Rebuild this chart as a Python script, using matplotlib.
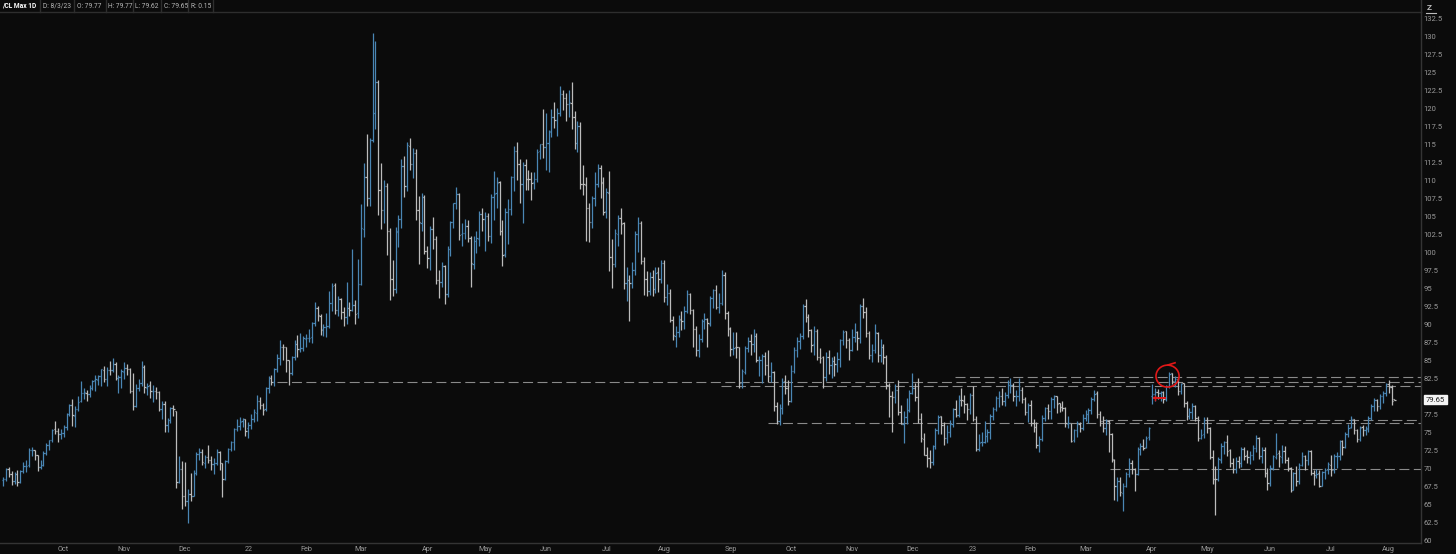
import numpy as np
import matplotlib
matplotlib.use("Agg")
import matplotlib.pyplot as plt
from matplotlib.collections import LineCollection
from matplotlib.patches import Ellipse
from matplotlib.lines import Line2D

plt.rcParams['font.family'] = ['Roboto', 'DejaVu Sans']

# ---------------- data: /CL daily OHLC, Sep 2021 .. 3 Aug 2023 ----------------
month_sessions = [21, 21, 21, 22, 20, 19, 23, 20, 21, 21, 20, 23,
                  21, 21, 21, 21, 20, 19, 23, 19, 22, 21, 20, 3]
month_labels = ['Sep', 'Oct', 'Nov', 'Dec', '22', 'Feb', 'Mar', 'Apr', 'May', 'Jun', 'Jul', 'Aug',
                'Sep', 'Oct', 'Nov', 'Dec', '23', 'Feb', 'Mar', 'Apr', 'May', 'Jun', 'Jul', 'Aug']

opens = [
    68.50,68.55,69.95,69.30,68.35,69.30,68.20,69.75,70.45,70.50,72.60,72.60,71.90,70.30,70.60,72.25,73.30,74.00,75.50,75.30,74.80,
    75.00,75.90,77.60,78.90,77.40,78.30,79.40,80.50,80.60,80.40,81.30,82.30,82.40,82.95,83.80,82.50,83.80,83.80,84.60,82.60,82.80,
    83.50,84.00,83.90,80.90,78.80,81.30,81.90,84.10,81.30,81.60,80.80,80.90,80.70,78.40,79.00,76.10,76.80,78.50,78.00,68.20,70.00,
    66.20,65.60,66.50,66.30,69.50,72.10,72.40,70.90,71.70,71.30,70.70,70.90,72.40,70.80,68.60,71.10,72.80,73.80,75.60,76.00,76.60,76.90,
    75.70,76.10,77.00,77.80,79.50,78.90,78.30,81.20,82.60,82.10,83.90,85.40,87.00,86.90,85.10,83.30,85.60,87.30,86.60,86.80,
    88.00,88.20,88.30,90.30,92.30,91.30,89.40,89.70,89.90,93.10,95.50,92.10,93.60,91.80,91.10,92.40,92.10,92.80,91.60,
    95.70,103.40,110.60,107.70,115.70,119.40,123.70,108.70,106.00,109.30,103.00,96.40,95.00,103.00,104.70,112.10,109.30,114.90,112.30,113.90,106.00,104.20,107.80,
    100.30,99.30,103.30,102.00,96.20,96.00,98.20,94.30,100.60,104.30,107.00,108.20,102.60,102.80,103.80,102.10,98.50,101.70,102.00,105.40,
    104.70,105.20,102.40,107.80,108.30,109.80,103.10,99.80,105.70,106.10,110.50,114.20,112.40,109.60,112.20,110.30,110.30,109.80,110.30,114.10,115.10,
    114.70,115.30,116.90,118.90,118.50,119.40,122.10,121.50,120.70,120.90,118.90,115.30,117.60,109.60,109.50,106.20,104.30,107.60,109.60,111.80,109.80,
    105.80,108.40,99.50,98.50,102.70,104.80,104.10,95.80,96.30,95.80,97.60,102.60,104.20,98.90,96.40,94.70,96.70,95.00,97.30,96.40,
    98.60,93.90,94.40,90.70,88.50,89.00,90.80,90.50,91.90,94.30,92.10,89.40,86.50,88.10,90.50,90.80,90.20,93.70,94.90,92.50,93.10,97.00,91.60,
    89.50,86.60,86.90,86.90,81.90,83.50,86.80,87.80,87.30,88.50,85.10,85.10,85.70,84.40,82.90,83.50,78.70,76.70,78.50,82.20,81.20,
    79.50,83.60,86.50,87.80,88.50,92.60,91.10,89.30,87.30,89.10,85.60,85.50,82.80,85.50,84.50,85.00,84.60,85.30,87.90,89.10,87.90,
    86.50,88.40,89.00,88.20,92.60,91.80,88.90,85.80,86.50,88.90,85.90,86.90,85.60,81.60,80.10,80.00,81.00,77.90,76.30,77.20,78.20,
    80.60,81.20,80.00,76.90,74.20,72.00,71.50,71.00,73.20,75.40,77.30,76.10,74.30,75.20,76.20,78.30,77.50,79.60,79.50,79.00,78.40,
    80.30,76.90,72.80,73.70,73.80,74.60,75.10,77.40,78.40,79.90,80.20,79.50,80.30,81.60,81.60,80.10,80.20,81.00,79.70,77.90,
    78.90,76.40,75.90,73.40,74.10,77.10,78.50,78.10,79.70,80.10,79.10,78.60,78.50,76.30,76.40,74.00,75.40,76.30,75.70,
    77.10,77.70,78.20,79.70,80.50,77.60,76.70,75.70,76.70,74.80,71.30,67.60,68.40,66.70,67.60,69.30,70.90,70.00,69.30,72.80,73.20,73.00,74.40,
    80.10,80.40,80.70,80.60,80.70,79.70,81.50,83.30,82.20,82.50,80.80,81.90,79.20,77.40,77.90,78.80,77.10,74.30,74.80,
    76.80,75.70,71.70,68.60,68.60,71.30,73.20,73.70,72.60,70.90,70.00,71.10,70.90,72.80,71.90,71.70,72.00,72.90,74.30,71.80,72.70,69.50,
    68.10,70.10,71.70,72.20,71.70,72.50,71.30,70.20,67.10,69.40,68.30,70.60,71.80,71.20,72.50,69.50,69.20,69.40,67.70,69.60,69.90,
    70.60,69.80,71.80,71.80,73.90,73.00,74.80,75.80,76.90,75.40,74.20,75.80,75.40,75.60,77.10,78.70,79.60,78.80,80.10,80.60,
    81.80,81.40,79.77,
]

highs = [
    68.90,70.11,70.25,69.76,69.60,69.85,69.90,71.00,71.20,72.90,73.00,72.65,71.95,71.30,72.50,73.55,74.00,75.60,76.67,75.70,75.60,
    76.05,77.80,79.00,79.78,78.80,80.11,82.18,81.20,81.00,81.60,82.40,83.11,83.00,83.90,84.30,84.10,85.00,85.41,84.80,83.00,83.90,
    84.88,84.60,84.00,83.40,81.80,82.50,84.97,84.50,82.00,82.20,81.60,81.40,80.90,79.40,79.50,77.10,78.60,78.90,78.10,71.80,71.10,
    71.00,67.20,69.50,69.80,72.33,72.90,72.80,71.90,73.30,71.80,71.50,72.80,72.50,70.90,71.30,72.90,73.90,75.70,76.90,77.20,77.10,77.00,
    76.50,77.60,78.30,80.24,80.00,79.20,81.40,82.90,83.10,84.00,86.00,87.91,87.40,87.00,85.20,85.70,87.95,88.54,88.84,88.50,
    88.80,89.40,90.44,93.17,92.70,91.50,90.20,91.60,94.66,95.82,95.80,94.00,93.80,92.50,96.00,93.20,100.54,93.50,99.10,
    106.78,112.51,116.57,116.00,130.50,129.44,124.00,112.50,110.20,109.70,103.50,99.00,103.60,105.30,113.00,113.50,115.40,116.00,114.60,114.50,107.90,108.40,108.00,
    101.00,103.70,105.00,102.30,97.70,98.70,98.30,101.00,104.50,107.00,109.20,108.40,104.10,104.70,104.60,102.30,102.30,103.00,105.80,106.20,
    105.70,105.60,108.20,111.37,110.50,110.00,104.60,106.30,107.50,110.70,114.80,115.40,113.00,112.60,113.10,111.50,111.20,111.30,114.40,115.20,119.98,
    119.40,117.10,120.00,120.99,120.10,123.18,122.70,122.20,122.70,123.68,119.70,118.40,118.20,112.20,110.60,107.00,107.90,111.20,112.40,112.20,110.60,
    109.00,111.45,101.90,103.30,105.30,106.30,104.30,98.00,97.00,98.70,103.00,105.00,104.50,99.50,97.50,97.40,97.70,98.00,98.00,99.00,
    99.00,95.70,95.00,91.20,89.80,91.40,92.00,92.60,94.80,94.50,92.20,89.80,88.70,90.80,91.60,91.00,94.00,95.00,95.60,94.50,97.65,97.30,92.00,
    89.70,89.00,89.00,87.00,83.90,87.10,88.40,88.70,89.50,88.90,85.70,86.00,86.20,86.50,84.90,83.60,79.30,79.00,82.70,83.00,82.40,
    84.40,87.00,88.40,88.90,92.95,93.64,91.50,89.50,89.80,89.50,86.80,85.70,86.30,86.50,85.60,85.70,86.20,88.10,89.30,89.20,88.20,
    89.50,90.30,89.10,92.85,93.74,92.50,89.20,87.30,90.10,89.00,88.00,87.40,85.80,82.00,80.80,81.80,82.40,78.90,78.00,79.90,81.00,
    83.34,81.90,82.70,77.80,75.00,73.00,72.60,73.40,75.70,77.50,77.40,76.50,76.10,76.80,78.50,79.60,80.30,81.20,80.30,79.20,80.50,
    81.50,77.40,74.90,75.20,76.70,75.60,77.60,78.60,80.10,80.80,81.20,80.70,82.40,82.60,82.00,81.00,82.66,81.40,80.00,79.20,
    79.60,77.00,76.50,74.60,77.50,78.60,79.00,80.00,80.30,80.20,79.20,79.40,78.60,77.30,76.40,75.60,76.70,76.50,77.60,
    78.20,78.50,80.00,80.94,80.80,78.00,77.40,77.00,76.80,75.00,71.40,68.90,68.90,68.10,69.60,71.50,71.30,70.20,73.10,73.60,74.20,74.60,75.90,
    81.81,81.20,81.10,80.90,80.80,81.70,83.53,83.40,82.90,82.70,81.90,81.90,79.50,78.50,79.10,78.90,77.40,75.60,77.20,
    77.20,75.80,72.70,70.40,71.60,73.60,73.90,74.70,72.80,71.50,71.60,71.80,73.00,73.00,72.60,72.50,73.40,74.73,74.50,73.00,73.10,70.20,
    70.60,72.00,75.06,72.70,73.30,73.20,71.70,70.30,69.60,70.40,70.90,72.30,72.00,72.70,72.70,69.90,70.00,69.80,69.70,70.20,71.00,
    72.00,72.10,72.30,74.00,74.00,75.10,76.20,77.33,76.90,75.50,76.00,76.10,76.00,77.30,79.00,79.80,79.70,80.40,80.80,81.90,
    82.40,81.70,79.77,
]

lows = [
    67.58,68.40,68.84,67.78,67.95,67.60,68.00,69.50,69.60,70.30,71.80,71.20,69.70,70.00,70.40,72.00,72.60,73.80,74.80,73.70,74.10,
    74.50,75.40,77.40,76.00,75.80,78.10,79.30,79.70,79.50,80.00,81.00,80.90,81.60,81.50,82.10,81.50,83.00,83.50,82.30,80.60,81.20,
    82.50,83.00,80.50,78.25,78.60,80.90,81.50,80.50,80.30,79.80,79.30,79.70,78.10,76.90,75.20,75.20,76.40,77.40,67.40,68.00,64.43,
    64.80,62.43,65.60,66.20,69.20,71.30,70.50,70.10,70.90,69.90,69.30,70.60,69.90,66.12,68.50,70.90,72.50,72.70,75.30,75.40,75.90,74.60,
    74.30,75.50,76.50,76.70,78.30,77.50,78.00,80.60,81.60,81.50,83.50,84.50,85.20,83.50,81.69,83.00,85.20,85.50,86.30,86.40,
    87.00,87.70,87.50,89.80,90.60,88.60,88.50,88.30,89.60,92.00,91.50,91.30,90.90,89.90,90.20,91.30,92.00,90.10,91.00,
    95.50,102.20,106.57,106.50,115.40,117.20,105.33,103.40,104.10,99.76,93.53,94.00,94.50,100.80,103.50,107.80,108.60,111.50,110.40,104.60,98.44,103.00,99.90,
    97.90,97.70,100.50,95.70,93.80,95.30,92.93,93.90,99.60,103.50,106.10,101.80,101.00,102.00,101.50,95.28,97.80,100.00,101.00,103.00,
    100.30,101.60,101.40,104.60,106.20,102.50,98.20,99.40,101.30,105.30,108.60,110.10,106.90,104.20,108.70,108.80,107.40,108.90,109.80,113.00,113.20,
    111.50,111.30,116.10,117.40,116.30,119.00,119.80,118.30,118.90,117.20,114.40,114.00,108.90,108.00,101.60,101.50,103.50,106.50,109.20,107.70,105.30,
    104.90,97.43,95.10,98.00,101.00,102.60,95.00,93.40,90.56,95.20,97.00,100.20,98.50,94.20,94.00,94.20,94.00,94.50,94.60,95.80,
    93.20,92.80,90.40,87.85,87.00,88.40,89.30,89.40,91.60,91.50,87.00,85.73,85.50,87.60,89.40,86.90,89.80,92.30,92.20,91.60,92.80,90.90,88.50,
    85.70,85.80,85.40,81.20,81.30,83.20,86.20,85.90,86.30,84.80,82.90,82.00,83.00,82.10,82.10,78.10,76.25,76.10,77.60,80.40,78.90,
    79.30,83.30,85.50,86.70,88.10,90.40,88.40,86.30,85.80,85.20,84.70,81.31,82.20,83.20,82.60,82.90,83.50,84.20,87.20,86.80,85.10,
    86.40,87.70,86.50,87.50,91.00,88.40,85.30,84.80,86.10,84.90,84.90,84.60,81.10,77.24,75.08,79.20,77.50,76.20,73.60,76.20,77.90,
    80.40,79.40,76.40,73.80,71.90,70.30,70.10,70.50,72.80,74.90,74.80,73.40,73.60,74.40,75.80,77.20,77.20,78.70,77.80,76.80,77.70,
    76.60,72.50,72.50,73.20,73.60,73.70,74.10,76.80,78.00,78.60,78.90,78.70,79.90,80.60,79.50,78.80,79.50,79.20,77.50,76.50,
    76.00,75.10,72.90,72.30,73.90,76.60,77.00,76.90,78.50,77.80,77.90,78.00,75.80,75.70,73.80,73.80,74.40,75.10,75.40,
    76.60,76.40,77.60,79.40,77.10,76.00,75.10,74.70,72.30,71.00,65.65,65.50,66.20,64.12,67.50,68.90,69.30,66.90,69.10,72.00,72.60,72.90,74.00,
    79.00,79.50,79.70,79.50,79.20,79.40,81.20,81.80,81.40,80.30,80.40,78.60,76.80,77.00,77.00,76.60,73.90,74.10,74.30,
    75.00,71.40,67.90,63.64,68.40,70.80,72.10,71.80,70.30,69.40,69.50,70.10,70.30,71.20,70.90,70.70,71.20,72.30,71.40,70.80,68.90,67.10,
    67.70,69.90,71.40,70.30,70.90,70.80,69.70,66.80,67.10,67.60,67.90,70.40,69.90,70.50,69.20,67.80,68.80,67.50,67.60,68.60,69.30,
    69.00,69.50,70.10,71.30,71.90,72.90,74.50,75.70,74.90,73.80,73.90,74.60,74.70,75.10,76.80,78.10,78.00,78.30,79.20,80.20,
    80.60,78.90,79.62,
]

closes = [
    68.59,69.99,69.29,68.35,69.30,68.14,69.72,70.45,70.46,72.61,72.61,71.97,70.29,70.56,72.23,73.30,73.98,75.45,75.29,74.83,75.03,
    75.88,77.62,78.93,77.43,78.30,79.35,80.52,80.64,80.44,81.31,82.28,82.44,82.96,83.87,82.50,83.76,83.76,84.65,82.66,82.81,83.57,
    84.05,83.91,80.86,78.81,81.27,81.93,84.15,81.34,81.59,80.79,80.88,80.76,78.36,79.01,76.10,76.75,78.50,78.39,68.15,69.95,66.18,
    65.57,66.50,66.26,69.49,72.05,72.36,70.94,71.67,71.29,70.73,70.87,72.38,70.86,68.61,71.12,72.76,73.79,75.57,75.98,76.56,76.99,75.21,
    76.08,76.99,77.85,79.46,78.90,78.23,81.22,82.64,82.12,83.82,85.43,86.96,86.90,85.14,83.31,85.60,87.35,86.61,86.82,88.15,
    88.20,88.26,90.27,92.31,91.32,89.36,89.66,89.88,93.10,95.46,92.07,93.66,91.76,91.07,92.35,92.10,92.81,91.59,95.72,
    103.41,110.60,107.67,115.68,119.40,123.70,108.70,106.02,109.33,103.01,96.44,95.04,102.98,104.70,112.12,109.27,114.93,112.34,113.90,105.96,104.24,107.82,100.28,
    99.27,103.28,101.96,96.23,96.03,98.26,94.29,100.60,104.25,106.95,108.21,102.56,102.75,103.79,102.07,98.54,101.70,102.02,105.36,104.69,
    105.17,102.41,107.81,108.26,109.77,103.09,99.76,105.71,106.13,110.49,114.20,112.40,109.59,112.21,110.28,110.29,109.77,110.33,114.09,115.07,114.67,
    115.26,116.87,118.87,118.50,119.41,122.11,121.51,120.67,120.93,118.93,115.31,117.59,109.56,109.52,106.19,104.27,107.62,109.57,111.76,109.78,105.76,
    108.43,99.50,98.53,102.73,104.79,104.09,95.84,96.30,95.78,97.59,102.60,104.22,98.88,96.35,94.70,96.70,94.98,97.26,96.42,98.62,
    93.89,94.42,90.66,88.54,89.01,90.76,90.50,91.93,94.34,92.09,89.41,86.53,88.11,90.50,90.77,90.23,93.74,94.89,92.52,93.06,97.01,91.64,89.55,
    86.61,86.87,86.88,81.94,83.54,86.79,87.78,87.31,88.48,85.10,85.11,85.73,84.45,82.94,83.49,78.74,76.71,78.50,82.15,81.23,79.49,
    83.63,86.52,87.76,88.45,92.64,91.13,89.35,87.27,89.11,85.61,85.46,82.82,85.55,84.51,85.05,84.58,85.32,87.91,89.08,87.90,86.53,
    88.37,89.00,88.17,92.61,91.79,88.91,85.83,86.47,88.96,85.87,86.92,85.59,81.64,80.08,80.04,80.95,77.94,76.28,77.24,78.20,80.55,
    81.22,79.98,76.93,74.25,72.01,71.46,71.02,73.17,75.39,77.28,76.11,74.29,75.19,76.23,78.29,77.49,79.56,79.53,78.96,78.40,80.26,
    76.93,72.84,73.67,73.77,74.63,75.12,77.41,78.39,79.86,80.18,79.48,80.33,81.64,81.62,80.13,80.15,81.01,79.68,77.90,78.87,
    76.41,75.88,73.39,74.11,77.14,78.47,78.06,79.72,80.14,79.06,78.59,78.49,76.34,76.36,73.95,75.39,76.32,75.68,77.05,
    77.69,78.16,79.68,80.46,77.58,76.66,75.72,76.68,74.80,71.33,67.61,68.35,66.74,67.64,69.33,70.90,69.96,69.26,72.81,73.20,72.97,74.37,75.67,
    80.42,80.71,80.61,80.70,79.74,81.53,83.26,82.16,82.52,80.83,81.86,79.16,77.37,77.87,78.76,77.07,74.30,74.76,76.78,
    75.66,71.66,68.60,68.56,71.34,73.16,73.71,72.56,70.87,70.04,71.11,70.86,72.83,71.86,71.69,71.99,72.91,74.34,71.83,72.67,69.46,68.09,
    70.10,71.74,72.15,71.74,72.53,71.29,70.17,67.12,69.42,68.27,70.62,71.78,71.19,72.53,69.51,69.16,69.37,67.70,69.56,69.86,70.64,
    69.79,71.79,71.80,73.86,72.99,74.83,75.75,76.89,75.42,74.15,75.75,75.35,75.63,77.07,78.74,79.63,78.78,80.09,80.58,81.80,
    81.37,79.49,79.65,
]

# user-drawn horizontal levels: (price, first session index)
level_prices = [82.10, 81.50, 82.80, 76.40, 76.75, 70.00]
level_starts = [95.0, 248.7, 329.7, 265.0, 381.0, 383.5]

header_texts = ['/CL Max 1D', 'D: 8/3/23', 'O: 79.77', 'H: 79.77', 'L: 79.62', 'C: 79.65', 'R: 0.15']
last_price = 79.65

# ---------------- figure ----------------
W, H = 1456, 554
BG = '#0b0b0b'
fig = plt.figure(figsize=(W / 100, H / 100), dpi=100, facecolor=BG)

ax_left, ax_right, ax_top, ax_bottom = 0, 1421, 12, 543
ax = fig.add_axes([ax_left / W, (H - ax_bottom) / H,
                   (ax_right - ax_left) / W, (ax_bottom - ax_top) / H])
ax.set_facecolor(BG)

n = len(closes)
x = np.arange(n)
o = np.array(opens); h = np.array(highs); l = np.array(lows); c = np.array(closes)

UP = '#4a86b4'
DN = '#bcbcbc'
cols = [UP if c[i] >= o[i] else DN for i in range(n)]
tick = 0.45
segs, segcols = [], []
for i in range(n):
    segs.append([(x[i], l[i]), (x[i], h[i])])
    segs.append([(x[i] - tick, o[i]), (x[i], o[i])])
    segs.append([(x[i], c[i]), (x[i] + tick, c[i])])
    segcols += [cols[i]] * 3
ax.add_collection(LineCollection(segs, colors=segcols, linewidths=0.9, capstyle='butt'))

xmin, xmax = -1.04, 491.2
ax.set_xlim(xmin, xmax)
ax.set_ylim(59.72, 133.47)

# level lines
for p, s in zip(level_prices, level_starts):
    ax.plot([s, xmax], [p, p], color='#8a8a8a', lw=0.8,
            linestyle=(0, (9, 4)), zorder=1)

# red annotations (circle around April high, mark under the April lows)
ax.add_patch(Ellipse((403.4, 82.9), 8.0, 3.05, fill=False, ec='#e01818', lw=1.2, zorder=5))
ax.plot([403.6, 406.0], [84.45, 84.75], color='#e01818', lw=1.2, zorder=5)
ax.plot([398.7, 402.4], [79.86, 79.86], color='#e01818', lw=1.4, zorder=5)
ax.plot([398.9, 398.9], [79.55, 80.15], color='#e01818', lw=1.0, zorder=5)

# axes styling
for sp in ['top', 'left']:
    ax.spines[sp].set_visible(False)
for sp in ['right', 'bottom']:
    ax.spines[sp].set_color('#343434')
    ax.spines[sp].set_linewidth(1.0)

yt = np.arange(60, 133, 2.5)
ax.yaxis.tick_right()
ax.set_yticks(yt)
# the "80" label sits under the last-price tag in the reference
ax.set_yticklabels(['' if abs(v - 80) < 1e-9 else f'{v:g}' for v in yt])
ax.tick_params(axis='y', length=0, pad=2.0, labelsize=5.5, labelcolor='#9a9a9a')

starts = np.concatenate([[0], np.cumsum(month_sessions)[:-1]])
ax.set_xticks(starts[1:])
ax.set_xticklabels(month_labels[1:])
ax.tick_params(axis='x', length=0, pad=2.0, labelsize=5.2, labelcolor='#9a9a9a')

# last price tag
ax.annotate(f'{last_price:.2f}', xy=(1.0, last_price), xycoords=('axes fraction', 'data'),
            xytext=(3.5, 0), textcoords='offset points', va='center', ha='left',
            fontsize=5.5, color='#202020', annotation_clip=False,
            bbox=dict(boxstyle='square,pad=0.25', fc='#f4f4f4', ec='#f4f4f4'))

# header bar
def fx(px):
    return px / W

def fy(py):
    return 1 - py / H

fig.add_artist(Line2D([0, fx(1421)], [fy(11.5), fy(11.5)], color='#2e2e2e', lw=1.0))
dividers = [40, 74, 106, 133, 161, 188, 213]
text_x = [2, 43, 77, 108, 135, 164, 191]
for i, t in enumerate(header_texts):
    fig.text(fx(text_x[i]), fy(6), t, fontsize=4.8, va='center', ha='left',
             color='#ffffff' if i == 0 else '#b8b8b8',
             fontweight='bold' if i == 0 else 'normal')
    fig.add_artist(Line2D([fx(dividers[i]), fx(dividers[i])], [fy(0), fy(11.5)],
                          color='#2e2e2e', lw=1.0))
fig.add_artist(Line2D([fx(1421), fx(1421)], [fy(0), fy(12)], color='#343434', lw=1.0))
fig.text(fx(1427), fy(7), 'Z', fontsize=6, fontweight='bold', color='#bdbdbd',
         va='center', ha='left')
fig.add_artist(Line2D([fx(1426), fx(1436)], [fy(13), fy(13)], color='#bdbdbd', lw=0.8))

fig.savefig('out.png', dpi=100, facecolor=BG)
